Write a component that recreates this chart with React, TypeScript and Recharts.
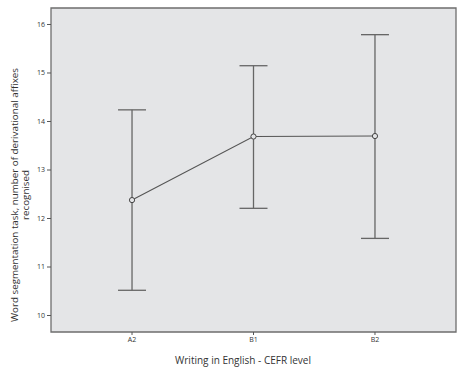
import React from "react";
import {
  ComposedChart,
  Line,
  XAxis,
  YAxis,
  ErrorBar,
  ReferenceArea,
} from "recharts";

const levels = ["A2", "B1", "B2"];
const means = [12.38, 13.69, 13.7];
const lowerBounds = [10.52, 12.21, 11.59];
const upperBounds = [14.24, 15.15, 15.79];
const yTicks = [10, 11, 12, 13, 14, 15, 16];

const data = levels.map((lvl, i) => ({
  x: i + 1,
  level: lvl,
  mean: means[i],
  err: [means[i] - lowerBounds[i], upperBounds[i] - means[i]],
}));

const X_MIN = 1 - 0.667;
const X_MAX = 3 + 0.667;
const Y_MIN = 9.66;
const Y_MAX = 16.34;

const FONT = "'Open Sans', 'Liberation Sans', sans-serif";
const LINE = "#555555";

const YLabel = (props: any) => {
  const { viewBox } = props;
  const cy = viewBox.y + viewBox.height / 2 + 25;
  return (
    <text
      transform={`rotate(-90, 15, ${cy})`}
      x={15}
      y={cy}
      textAnchor="middle"
      fontFamily={FONT}
      fontSize={9.8}
      fill="#333"
    >
      <tspan x={15} dy={3}>Word segmentation task, number of derivational affixes</tspan>
      <tspan x={15} dy={10.5}>recognised</tspan>
    </text>
  );
};

const XLabel = (props: any) => {
  const { viewBox } = props;
  return (
    <text
      x={243}
      y={viewBox.y + 32}
      textAnchor="middle"
      fontFamily={FONT}
      fontSize={10}
      fill="#333"
    >
      Writing in English - CEFR level
    </text>
  );
};

export default function App() {
  return (
    <div style={{ position: "absolute", left: 0, top: 0 }}>
      <ComposedChart
        width={460}
        height={374}
        data={data}
        margin={{ top: 8, right: 4, bottom: 0, left: 0 }}
      >
        <ReferenceArea
          x1={X_MIN}
          x2={X_MAX}
          y1={Y_MIN}
          y2={Y_MAX}
          fill="#e4e5e7"
          fillOpacity={1}
          stroke="#6e6e6e"
          strokeWidth={1.3}
        />
        <XAxis
          dataKey="x"
          type="number"
          domain={[X_MIN, X_MAX]}
          ticks={[1, 2, 3]}
          tickFormatter={(v: number) => levels[v - 1]}
          height={42}
          axisLine={false}
          tickLine={{ stroke: "#555" }}
          tickSize={3}
          tick={{ fontSize: 7, fill: "#333", fontFamily: FONT }}
          label={<XLabel />}
        />
        <YAxis
          type="number"
          domain={[Y_MIN, Y_MAX]}
          ticks={yTicks}
          width={51}
          axisLine={false}
          tickLine={{ stroke: "#555" }}
          tickSize={4}
          tickMargin={2}
          tick={{ fontSize: 7, fill: "#333", fontFamily: FONT }}
          label={<YLabel />}
        />
        <Line
          dataKey="mean"
          stroke={LINE}
          strokeWidth={1.1}
          isAnimationActive={false}
          dot={{ r: 2.6, fill: "#e4e5e7", stroke: "#444", strokeWidth: 1 }}
          activeDot={false}
        >
          <ErrorBar
            dataKey="err"
            direction="y"
            width={14}
            stroke="#666"
            strokeWidth={1.3}
            isAnimationActive={false}
          />
        </Line>
      </ComposedChart>
    </div>
  );
}
